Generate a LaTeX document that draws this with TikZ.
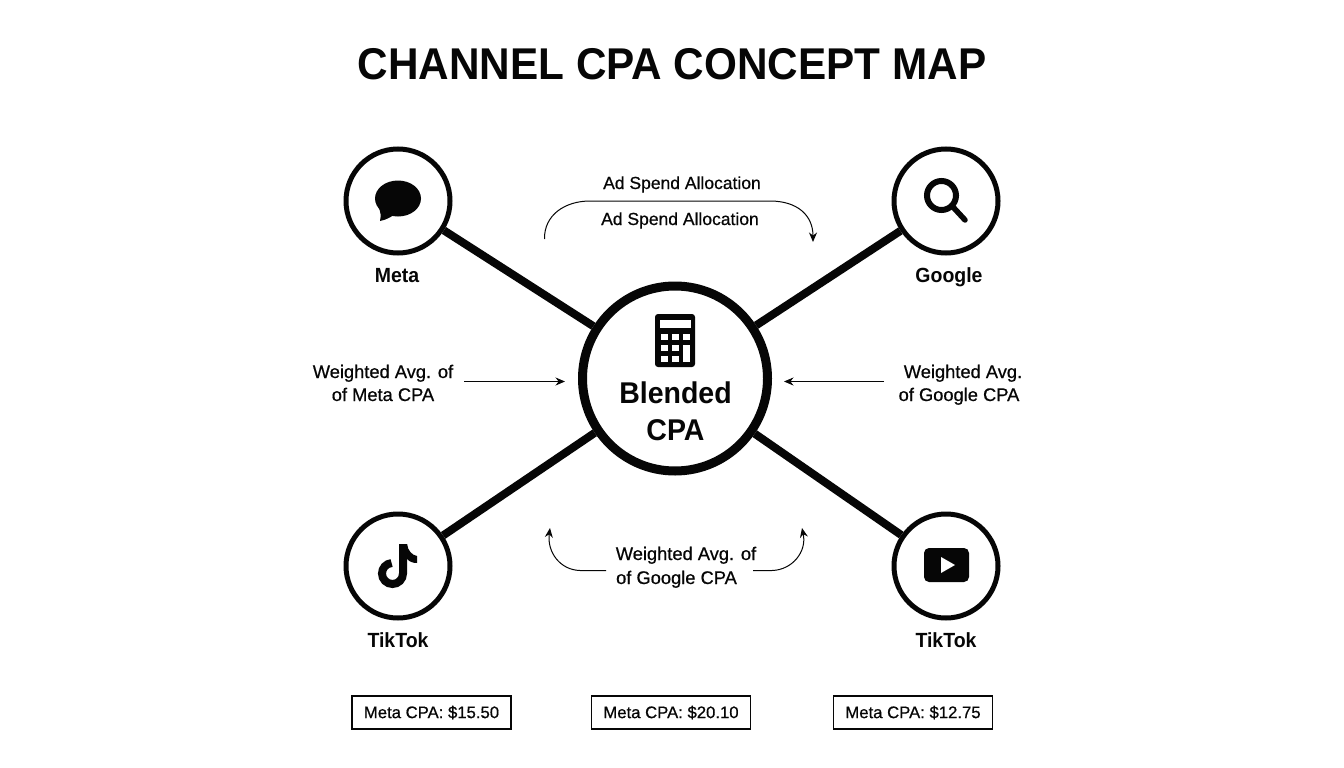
\documentclass[tikz,border=0pt]{standalone}
\usepackage{fontspec}
\setmainfont{Liberation Sans}
\newfontfamily\medfont[FakeBold=0.6]{Liberation Sans}
\newfontfamily\boldfont[FakeStretch=0.95]{Liberation Sans Bold}
\usetikzlibrary{arrows.meta}
\definecolor{ink}{HTML}{060606}
\tikzset{
  hub/.style={circle,draw=ink,line width=9pt,fill=white,minimum size=185pt,inner sep=0pt},
  channel/.style={circle,draw=ink,line width=5pt,fill=white,minimum size=104pt,inner sep=0pt},
  spoke/.style={draw=ink,line width=8pt},
  flow/.style={draw=ink,line width=1pt,-{Stealth[length=9.5pt,width=8pt]}},
  lab/.style={anchor=base,inner sep=0pt,text=ink,font=\medfont\fontsize{18.3}{20}\selectfont},
  adlab/.style={anchor=base,inner sep=0pt,text=ink,font=\medfont\fontsize{17.5}{20}\selectfont},
  chan/.style={anchor=base,inner sep=0pt,text=ink,font=\boldfont\fontsize{20.5}{24}\selectfont},
  hubtext/.style={anchor=base,inner sep=0pt,text=ink,font=\boldfont\fontsize{30}{37}\selectfont},
  cost/.style={draw=ink,line width=1.7pt,minimum width=159pt,minimum height=33pt,inner sep=0pt,text=ink,font=\medfont\fontsize{16.7}{19}\selectfont}
}
\begin{document}
\begin{tikzpicture}[x=1pt,y=-1pt]
\useasboundingbox (0,0) rectangle (1344,768);
\fill[white] (0,0) rectangle (1344,768);
\node[anchor=base,inner sep=0pt,text=ink,font=\boldfont\fontsize{44.5}{50}\selectfont] (title) at (672,79) {CHANNEL CPA CONCEPT MAP};

\node[hub] (center) at (675,378.5) {};
\node[channel] (meta) at (398,201) {};
\node[channel] (google) at (946,201) {};
\node[channel] (tiktok) at (398,566) {};
\node[channel] (video) at (946,566) {};
\draw[spoke] (meta) -- (center);
\draw[spoke] (google) -- (center);
\draw[spoke] (tiktok) -- (center);
\draw[spoke] (video) -- (center);

% chat icon
\fill[ink] (398,198.5) ellipse [x radius=23,y radius=18];
\fill[ink] (378,206) .. controls (381,212) and (381,216) .. (380,221) .. controls (386,220) and (391,217) .. (397,213) -- cycle;
% magnifier icon
\draw[ink,line width=6pt] (941.5,195.5) circle [radius=14.5];
\draw[ink,line width=5.5pt,line cap=round] (953,207) -- (965,220);
% note icon
\draw[ink,line width=8pt] (403,544) -- (403,573.5) arc [start angle=0,end angle=265,radius=10.5];
\fill[ink] (407,544) .. controls (408,551) and (412,555) .. (417,556) -- (417,563) .. controls (413,563) and (410,562) .. (407,559) -- cycle;
% video icon
\fill[ink,rounded corners=5pt] (924,548) rectangle (969,582);
\fill[white] (941,557) -- (955,565) -- (941,573) -- cycle;
% calculator icon
\fill[ink,rounded corners=3pt] (655,314) rectangle (695,367);
\fill[white] (660,319.5) rectangle (691,328);
\foreach \kx in {661,672,683}{\foreach \ky in {334,345,356}{\fill[white] (\kx,\ky) rectangle +(6.5,6);}}
\fill[white] (683,345) rectangle (689.5,362);

\node[hubtext] (blended) at (675.5,403) {Blended};
\node[hubtext] (cpa) at (675.5,440) {CPA};

\node[chan] (lmeta) at (397,282) {Meta};
\node[chan] (lgoogle) at (949,282) {Google};
\node[chan] (ltiktok) at (398,647) {TikTok};
\node[chan] (lvideo) at (946,647) {TikTok};

\node[adlab] (a1) at (682,189) {Ad Spend Allocation};
\node[adlab] (a2) at (680,225) {Ad Spend Allocation};
\node[lab] (w1) at (383,378) {Weighted Avg. of};
\node[lab] (w2) at (383,401) {of Meta CPA};
\node[lab] (w3) at (963,378) {Weighted Avg.};
\node[lab] (w4) at (959,401) {of Google CPA};
\node[lab] (w5) at (686,560) {Weighted Avg. of};
\node[lab] (w6) at (676.5,584) {of Google CPA};

\coordinate (t0) at (544.5,239);
\coordinate (t1) at (813,242);
\draw[flow] (t0) .. controls (544,215) and (565,201) .. (590,201) -- (770,201) .. controls (797,201) and (813,215) .. (t1);
\coordinate (s1) at (464,381.5);
\coordinate (s2) at (565,381.5);
\coordinate (s3) at (884,381.5);
\coordinate (s4) at (784,381.5);
\draw[flow] (s1) -- (s2);
\draw[flow] (s3) -- (s4);
\coordinate (b1) at (606,570.5);
\coordinate (b2) at (550,528);
\coordinate (b3) at (753,570.5);
\coordinate (b4) at (802,528);
\draw[flow] (b1) -- (580,570.5) .. controls (560,570) and (547,552) .. (b2);
\draw[flow] (b3) -- (772,570.5) .. controls (792,570) and (807,552) .. (b4);

\node[cost] (c1) at (431.5,712.5) {Meta CPA: \$15.50};
\node[cost] (c2) at (671,712.5) {Meta CPA: \$20.10};
\node[cost] (c3) at (913,712.5) {Meta CPA: \$12.75};
\end{tikzpicture}
\end{document}
